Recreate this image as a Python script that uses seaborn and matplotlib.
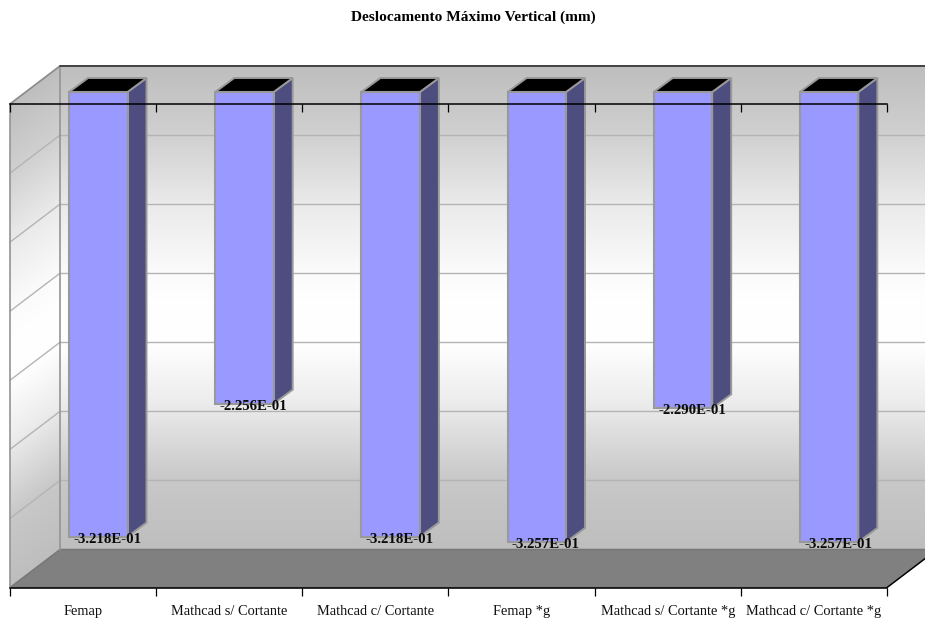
import numpy as np
import matplotlib
matplotlib.use("Agg")
import matplotlib.pyplot as plt
from matplotlib.patches import Polygon
from matplotlib.lines import Line2D
from matplotlib.transforms import Affine2D, IdentityTransform
from matplotlib.colors import LinearSegmentedColormap
import seaborn as sns

categories = ["Femap", "Mathcad s/ Cortante", "Mathcad c/ Cortante",
              "Femap *g", "Mathcad s/ Cortante *g", "Mathcad c/ Cortante *g"]
displacement = [-0.3218, -0.2256, -0.3218, -0.3257, -0.2290, -0.3257]
gridline_values = [-0.05, -0.10, -0.15, -0.20, -0.25, -0.30]
title_text = "Deslocamento Máximo Vertical (mm)"

WIDTH, HEIGHT = 925, 623
FACE = "#9999FF"
SIDE = "#4D4D80"
EDGE = "#999999"
GRID = "#B4B4B4"

# Oblique projection, in pixels: wall depth and the bars' place inside it
WALL_SHIFT = (50, 38)
BAR_SHIFT = (15.2, 12)
BAR_DEPTH = (19, 14)

sns.set_theme(style="white")
plt.rcParams["font.family"] = ["Liberation Serif", "DejaVu Serif"]

fig = plt.figure(figsize=(WIDTH / 100, HEIGHT / 100), dpi=100, facecolor="white")
ax = fig.add_axes([10 / WIDTH, 1 - 587.5 / HEIGHT, 877 / WIDTH, 483.5 / HEIGHT])
ax.patch.set_visible(False)

sns.barplot(x=categories, y=displacement, color=FACE, saturation=1, width=0.4,
            edgecolor=EDGE, linewidth=1.5, ax=ax, zorder=3)
ax.set_xlim(-0.5, 5.5)
ax.set_ylim(-0.35, 0)


def shifted(shift):
    return ax.transData + Affine2D().translate(*shift)


def to_px(x, y, shift=(0, 0)):
    return shifted(shift).transform((x, y))


def add_poly(points, color, edge, z, lw=1.4):
    poly = Polygon(points, closed=True, facecolor=color, edgecolor=edge, linewidth=lw,
                   transform=IdentityTransform(), zorder=z, clip_on=False, joinstyle="miter")
    ax.add_patch(poly)
    return poly


def add_line(p, q, color, z, lw=1.0):
    ax.add_line(Line2D([p[0], q[0]], [p[1], q[1]], color=color, linewidth=lw, zorder=z,
                       transform=IdentityTransform(), clip_on=False))


# Walls carry a vertical grey-white-grey gradient
wall_cmap = LinearSegmentedColormap.from_list("wall", [
    (0.00, "#BEBEBE"), (0.143, "#D0D0D0"), (0.286, "#EAEAEA"), (0.43, "#FBFBFB"),
    (0.50, "#FFFFFF"), (0.58, "#FEFEFE"), (0.70, "#ECECEC"), (0.857, "#C8C8C8"),
    (1.00, "#BEBEBE")])
ramp = np.linspace(0, 1, 512).reshape(-1, 1)
ax.imshow(ramp, cmap=wall_cmap, aspect="auto", extent=[-0.5, 5.5, -0.35, 0], origin="upper",
          transform=shifted(WALL_SHIFT), clip_on=False, zorder=0)

front_top = to_px(-0.5, 0)
front_bottom = to_px(-0.5, -0.35)
side_transform = Affine2D.from_values(WALL_SHIFT[0], WALL_SHIFT[1], 0,
                                      front_top[1] - front_bottom[1],
                                      front_bottom[0], front_bottom[1])
ax.imshow(ramp, cmap=wall_cmap, aspect="auto", extent=[0, 1, 0, 1], origin="upper",
          transform=side_transform, clip_on=False, zorder=0)
ax.set_xlim(-0.5, 5.5)
ax.set_ylim(-0.35, 0)

# Gridlines across the back wall and the side wall
for value in gridline_values:
    add_line(to_px(-0.5, value, WALL_SHIFT), to_px(5.5, value, WALL_SHIFT), GRID, 1)
    add_line(to_px(-0.5, value), to_px(-0.5, value, WALL_SHIFT), GRID, 1)

# Floor
add_poly([to_px(-0.5, -0.35), to_px(-0.5, -0.35, WALL_SHIFT),
          to_px(5.5, -0.35, WALL_SHIFT), to_px(5.5, -0.35)], "#808080", "#777777", 1.5, 1.1)

# Wall edges
add_line(to_px(-0.5, 0), to_px(-0.5, 0, WALL_SHIFT), "#8C8C8C", 1.6, 1.2)
add_line(to_px(-0.5, 0, WALL_SHIFT), to_px(-0.5, -0.35, WALL_SHIFT), "#949494", 1.6, 1.2)
add_line(to_px(-0.5, 0), to_px(-0.5, -0.35), "#949494", 1.6, 1.2)
add_line(to_px(-0.5, 0, WALL_SHIFT), to_px(5.5, 0, WALL_SHIFT), "#222222", 1.6, 1.1)
add_line(to_px(5.5, -0.35), to_px(5.5, -0.35, WALL_SHIFT), "#000000", 2.5, 1.0)

# Give each bar its depth: sheared side and top faces plus a value label
back = (BAR_SHIFT[0] + BAR_DEPTH[0], BAR_SHIFT[1] + BAR_DEPTH[1])
for bar, value in zip(ax.patches[:len(displacement)], displacement):
    x0, x1 = bar.get_x(), bar.get_x() + bar.get_width()
    bar.set_transform(shifted(BAR_SHIFT))
    bar.set_clip_on(False)
    bar.set_zorder(3)
    add_poly([to_px(x1, 0, BAR_SHIFT), to_px(x1, 0, back),
              to_px(x1, value, back), to_px(x1, value, BAR_SHIFT)], SIDE, EDGE, 2.8)
    add_poly([to_px(x0, 0, BAR_SHIFT), to_px(x1, 0, BAR_SHIFT),
              to_px(x1, 0, back), to_px(x0, 0, back)], "#000000", EDGE, 2.8)
    lx, ly = to_px((x0 + x1) / 2, value, (BAR_SHIFT[0] + BAR_DEPTH[0] / 2 - 0.5, BAR_SHIFT[1] - 2.5))
    ax.text(lx, ly, f"{value:.3E}", transform=IdentityTransform(), ha="center", va="center",
            fontsize=10.7, fontweight="bold", color="#0A0A0A", zorder=5, clip_on=False)

# Category axis: a line at zero and another along the front of the floor
for name in ("left", "right"):
    ax.spines[name].set_visible(False)
for name in ("top", "bottom"):
    ax.spines[name].set_visible(True)
    ax.spines[name].set_color("black")
    ax.spines[name].set_linewidth(1.1)
    ax.spines[name].set_zorder(4)

boundaries = np.arange(-0.5, 6.0, 1.0)
ax.set_xticks(boundaries, minor=True)
ax.set_yticks([])
ax.set_xticks(range(len(categories)), categories)
ax.tick_params(axis="x", which="minor", bottom=True, length=6, width=0.9, color="black",
               direction="out")
ax.tick_params(axis="x", which="major", bottom=False, length=0, pad=17.5, labelsize=10.4,
               labelcolor="#111111")
for label in ax.get_xticklabels():
    label.set_va("center")
ax.vlines(boundaries, -8 / 1381, 0, color="black", linewidth=0.9, zorder=4, clip_on=False)
ax.set_xlabel("")
ax.set_ylabel("")

fig.text(473.5 / WIDTH, 1 - 17 / HEIGHT, title_text, ha="center", va="center",
         fontsize=11.1, fontweight="bold", color="black")

fig.savefig("out.png", dpi=100, facecolor="white")
